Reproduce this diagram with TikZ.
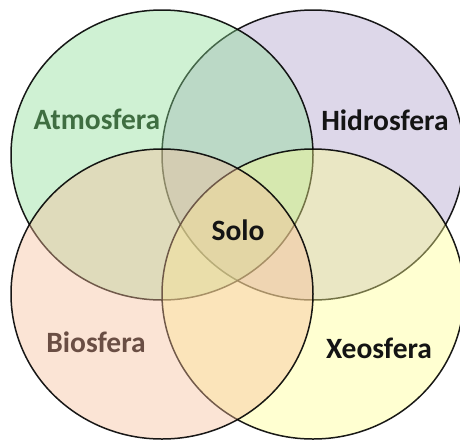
\documentclass[tikz,border=0pt]{standalone}
\usepackage{fontspec}
\setmainfont{Carlito}
\usetikzlibrary{shapes.geometric}
\definecolor{cpurple}{HTML}{AA9DCA}
\definecolor{cgreen}{HTML}{89DE93}
\definecolor{cyellow}{HTML}{FFFF8E}
\definecolor{cpeach}{HTML}{F7BC98}
\definecolor{tgreen}{HTML}{3F6E41}
\definecolor{tbrown}{HTML}{6A4E44}
\definecolor{tdark}{HTML}{141414}
\tikzset{
  sphere/.style={ellipse, draw=black, line width=1.5pt, fill opacity=0.4, draw opacity=0.9,
    minimum width=302pt, minimum height=290pt, inner sep=0pt, outer sep=0pt},
  lbl/.style={font=\bfseries\fontsize{29.5}{32}\selectfont, inner sep=0pt}
}
\begin{document}
\begin{tikzpicture}[x=1pt,y=-1pt]
\useasboundingbox (0,0) rectangle (460,440);
\clip (0,0) rectangle (460,440);
\fill[white] (0,0) rectangle (460,440);
\node[sphere, fill=cpurple] (hid) at (313,155) {};
\node[sphere, fill=cgreen] (atm) at (162,155) {};
\node[sphere, fill=cyellow] (xeo) at (313,294) {};
\node[sphere, fill=cpeach] (bio) at (162,294) {};
\node[lbl, text=tgreen] (tatm) at (97,119) {Atmosfera};
\node[lbl, text=tdark] (thid) at (385,120) {Hidrosfera};
\node[lbl, text=tdark] (tsolo) at (238,230) {Solo};
\node[lbl, text=tbrown] (tbio) at (96,342) {Biosfera};
\node[lbl, text=tdark] (txeo) at (379,348) {Xeosfera};
\end{tikzpicture}
\end{document}
